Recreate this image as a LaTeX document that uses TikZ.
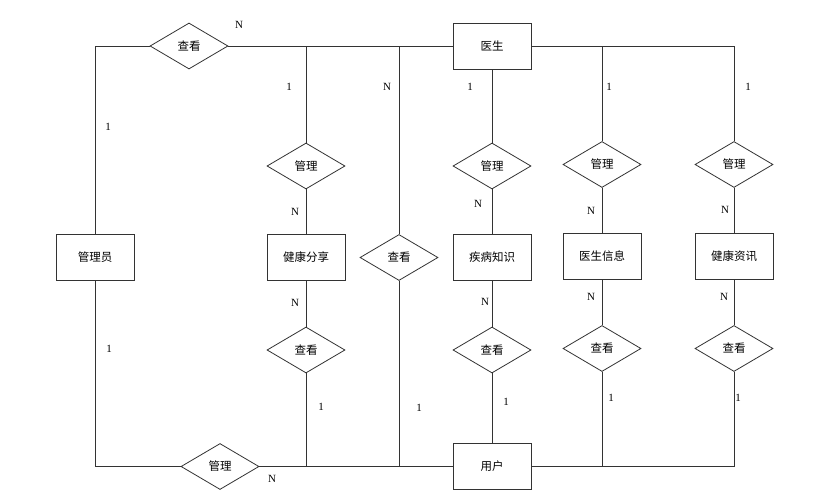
\documentclass[tikz,border=0pt]{standalone}
\usepackage{fontspec}
\setmainfont{Liberation Serif}
\newfontfamily\cjk{Noto Sans CJK SC}
\usetikzlibrary{shapes.geometric}
\begin{document}
\begin{tikzpicture}[x=1pt,y=-1pt,
  ent/.style={draw=black!80, line width=0.8pt, rectangle, minimum width=78pt, minimum height=46pt, inner sep=0pt, font=\cjk\fontsize{11.5}{12}\selectfont},
  rel/.style={draw=black!80, line width=0.8pt, diamond, minimum width=78pt, minimum height=46pt, inner sep=0pt, font=\cjk\fontsize{11.5}{12}\selectfont},
  conn/.style={draw=black!80, line width=0.8pt},
  lab/.style={inner sep=0pt, font=\fontsize{11}{12}\selectfont}]
\useasboundingbox (0,0) rectangle (832,495);
\fill[white] (0,0) rectangle (832,495);
% entities
\node[ent] (ys) at (492,46) {医生};
\node[ent] (gly) at (95,257.5) {管理员};
\node[ent] (jkfx) at (306,257.5) {健康分享};
\node[ent] (jbzs) at (492,257.5) {疾病知识};
\node[ent] (ysxx) at (602,256.5) {医生信息};
\node[ent] (jkzx) at (734,256.5) {健康资讯};
\node[ent] (yh) at (492,466.5) {用户};
% relations
\node[rel] (ck1) at (189,46) {查看};
\node[rel] (gl1) at (306,166) {管理};
\node[rel] (ck2) at (399,257.5) {查看};
\node[rel] (gl2) at (492,166) {管理};
\node[rel] (gl3) at (602,164.5) {管理};
\node[rel] (gl4) at (734,164.5) {管理};
\node[rel] (ck3) at (306,350) {查看};
\node[rel] (ck4) at (492,350) {查看};
\node[rel] (ck5) at (602,348.5) {查看};
\node[rel] (ck6) at (734,348.5) {查看};
\node[rel] (gl5) at (220,466.5) {管理};
% top connectors
\draw[conn] (gly.north) |- (ck1.west);
\draw[conn] (ck1.east) -- (ys.west);
\draw[conn] (gl1.north) -- (gl1.north |- ys.west);
\draw[conn] (ck2.north) -- (ck2.north |- ys.west);
\draw[conn] (ys.east) -| (gl4.north);
\draw[conn] (gl3.north) -- (gl3.north |- ys.east);
\draw[conn] (ys.south) -- (gl2.north);
% middle connectors
\draw[conn] (gl1.south) -- (jkfx.north);
\draw[conn] (gl2.south) -- (jbzs.north);
\draw[conn] (gl3.south) -- (ysxx.north);
\draw[conn] (gl4.south) -- (jkzx.north);
\draw[conn] (jkfx.south) -- (ck3.north);
\draw[conn] (jbzs.south) -- (ck4.north);
\draw[conn] (ysxx.south) -- (ck5.north);
\draw[conn] (jkzx.south) -- (ck6.north);
% bottom connectors
\draw[conn] (gly.south) |- (gl5.west);
\draw[conn] (gl5.east) -- (yh.west);
\draw[conn] (ck3.south) -- (ck3.south |- yh.west);
\draw[conn] (ck2.south) -- (ck2.south |- yh.west);
\draw[conn] (yh.east) -| (ck6.south);
\draw[conn] (ck5.south) -- (ck5.south |- yh.east);
\draw[conn] (ck4.south) -- (yh.north);
% labels
\node[lab] (l1) at (239,24.5) {N};
\node[lab] (l2) at (108,127) {1};
\node[lab] (l3) at (289,87) {1};
\node[lab] (l4) at (387,87) {N};
\node[lab] (l5) at (295,211.5) {N};
\node[lab] (l6) at (470,87) {1};
\node[lab] (l7) at (609,87) {1};
\node[lab] (l8) at (748,87) {1};
\node[lab] (l9) at (478,203.5) {N};
\node[lab] (l10) at (591,210.5) {N};
\node[lab] (l11) at (725,210) {N};
\node[lab] (l12) at (109,349) {1};
\node[lab] (l13) at (295,303) {N};
\node[lab] (l14) at (321,406.5) {1};
\node[lab] (l15) at (419,407.5) {1};
\node[lab] (l16) at (272,478.5) {N};
\node[lab] (l17) at (485,302) {N};
\node[lab] (l18) at (506,402) {1};
\node[lab] (l19) at (591,297) {N};
\node[lab] (l20) at (611,398) {1};
\node[lab] (l21) at (724,297) {N};
\node[lab] (l22) at (738,398) {1};
\end{tikzpicture}
\end{document}
